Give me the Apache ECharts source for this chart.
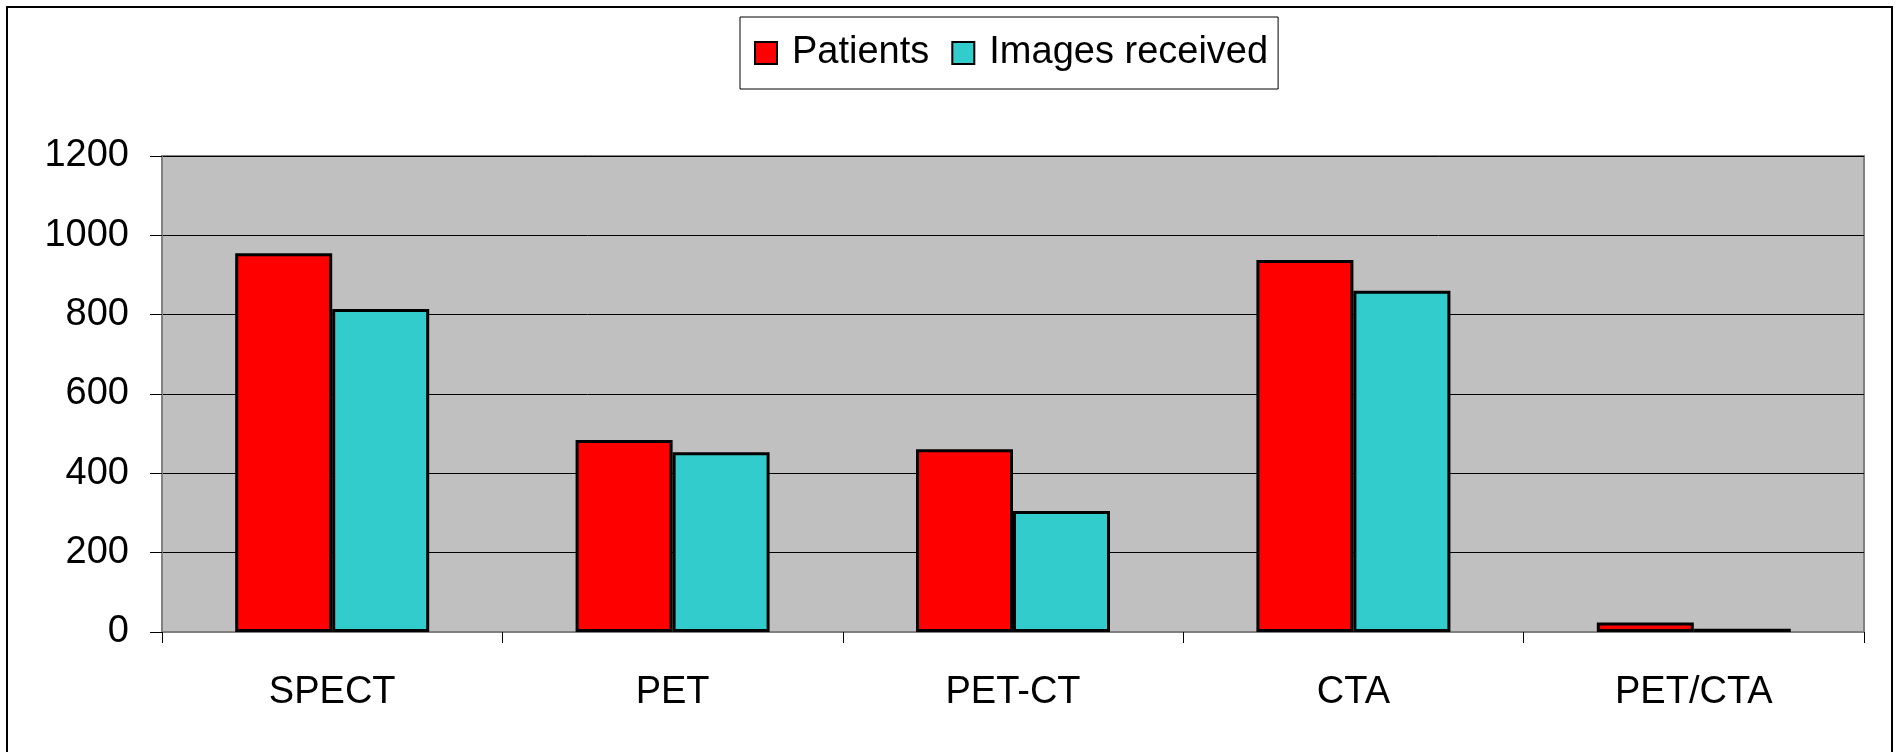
<!DOCTYPE html>
<html>
<head>
<meta charset="utf-8">
<style>
  html, body { margin: 0; padding: 0; background: #fff; }
  #chart { width: 1902px; height: 752px; }
</style>
<script src="https://cdn.jsdelivr.net/npm/echarts@6/dist/echarts.min.js"></script>
</head>
<body>
<div id="chart"></div>
<script>
// Imaging modalities
const categories = ['SPECT', 'PET', 'PET-CT', 'CTA', 'PET/CTA'];
// Number of patients per modality
const patients = [955, 484, 461, 938, 24];
// Number of image sets received per modality
const imagesReceived = [814, 453, 305, 860, 8];
// Value axis ticks
const yTicks = [0, 200, 400, 600, 800, 1000, 1200];

const FONT = '"Liberation Sans", Arial, sans-serif';
const FONT_SIZE = 38;

const chart = echarts.init(document.getElementById('chart'), null, { renderer: 'canvas' });

chart.setOption({
  animation: false,
  backgroundColor: '#ffffff',
  textStyle: { fontFamily: FONT, color: '#000' },
  graphic: [{
    type: 'rect',
    silent: true,
    z: 100,
    shape: { x: 7, y: 7, width: 1885, height: 760 },
    style: { fill: 'none', stroke: '#000', lineWidth: 2 }
  }],
  legend: {
    left: 740,
    top: 17,
    padding: [17, 10, 17, 14],
    backgroundColor: '#fff',
    borderColor: '#000',
    borderWidth: 1,
    itemWidth: 22,
    itemHeight: 22,
    itemGap: 22,
    icon: 'rect',
    itemStyle: { borderColor: '#000', borderWidth: 2 },
    textStyle: {
      fontFamily: FONT,
      fontSize: FONT_SIZE,
      color: '#000',
      lineHeight: 24,
      padding: [0, 0, 0, 10]
    },
    data: ['Patients', 'Images received']
  },
  grid: {
    left: 162,
    top: 156,
    width: 1702,
    height: 476,
    show: true,
    backgroundColor: '#C0C0C0',
    borderColor: '#808080',
    borderWidth: 2
  },
  xAxis: {
    type: 'category',
    data: categories,
    boundaryGap: true,
    axisLine: { show: true, lineStyle: { color: '#808080', width: 2 } },
    axisTick: { show: true, alignWithLabel: false, length: 11, lineStyle: { color: '#000', width: 1 } },
    axisLabel: { fontFamily: FONT, fontSize: FONT_SIZE, color: '#000', margin: 42 },
    splitLine: { show: false }
  },
  yAxis: {
    type: 'value',
    min: yTicks[0],
    max: yTicks[yTicks.length - 1],
    interval: yTicks[1] - yTicks[0],
    axisLine: { show: true, lineStyle: { color: '#808080', width: 2 } },
    axisTick: { show: true, length: 12, lineStyle: { color: '#000', width: 1 } },
    axisLabel: {
      fontFamily: FONT,
      fontSize: FONT_SIZE,
      color: '#000',
      margin: 33,
      formatter: (v) => String(v)
    },
    splitLine: { show: true, lineStyle: { color: '#000', width: 1 } }
  },
  series: [
    {
      name: 'Patients',
      type: 'bar',
      data: patients,
      barWidth: 97,
      barGap: '0%',
      itemStyle: { color: '#FF0000', borderColor: '#000', borderWidth: 3 }
    },
    {
      name: 'Images received',
      type: 'bar',
      data: imagesReceived,
      barWidth: 97,
      barGap: '0%',
      itemStyle: { color: '#33CCCC', borderColor: '#000', borderWidth: 3 }
    }
  ]
});
</script>
</body>
</html>
